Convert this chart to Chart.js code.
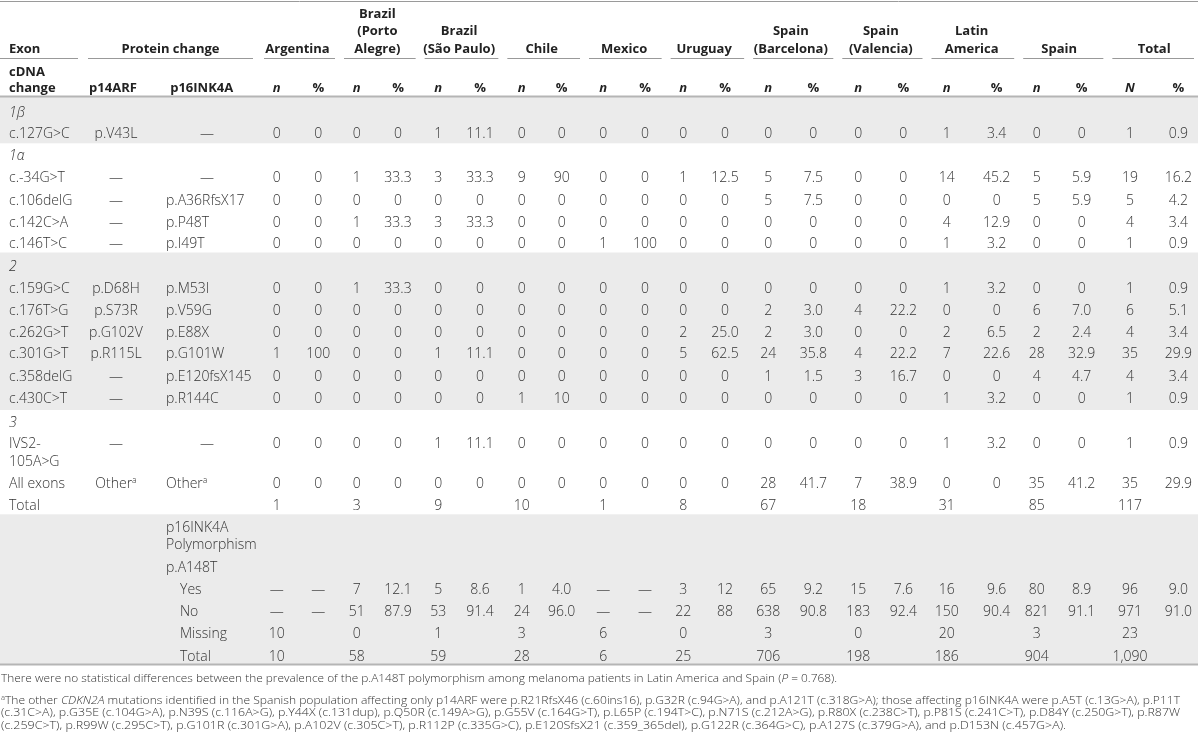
<!DOCTYPE html>
<html>
<head>
<meta charset="utf-8">
<script src="https://cdn.jsdelivr.net/npm/chart.js@4.4.0/dist/chart.umd.min.js"></script>
<style>
html, body { margin: 0; padding: 0; background: #fff; }
#wrap { width: 1200px; height: 739px; position: relative; }
</style>
</head>
<body>
<div id="wrap"><canvas id="tableChart"></canvas></div>
<script>
const countries = [
    ["Argentina"],
    ["Brazil", "(Porto", "Alegre)"],
    ["Brazil", "(São Paulo)"],
    ["Chile"],
    ["Mexico"],
    ["Uruguay"],
    ["Spain", "(Barcelona)"],
    ["Spain", "(Valencia)"],
    ["Latin", "America"],
    ["Spain"],
    ["Total"],
];

const exonLabels = ["1β", "1α", "2", "3"];

const cdnaChanges = [
    "c.127G>C", "c.-34G>T", "c.106delG", "c.142C>A", "c.146T>C",
    "c.159G>C", "c.176T>G", "c.262G>T", "c.301G>T", "c.358delG", "c.430C>T",
    "IVS2-105A>G", "All exons",
];
const p14Changes = [
    "p.V43L", "—", "—", "—", "—",
    "p.D68H", "p.S73R", "p.G102V", "p.R115L", "—", "—",
    "—", "Other",
];
const p16Changes = [
    "—", "—", "p.A36RfsX17", "p.P48T", "p.I49T",
    "p.M53I", "p.V59G", "p.E88X", "p.G101W", "p.E120fsX145", "p.R144C",
    "—", "Other",
];

// n per country group (Argentina ... Total), one row per mutation
const mutationN = [
    ["0", "0", "1", "0", "0", "0", "0", "0", "1", "0", "1"],
    ["0", "1", "3", "9", "0", "1", "5", "0", "14", "5", "19"],
    ["0", "0", "0", "0", "0", "0", "5", "0", "0", "5", "5"],
    ["0", "1", "3", "0", "0", "0", "0", "0", "4", "0", "4"],
    ["0", "0", "0", "0", "1", "0", "0", "0", "1", "0", "1"],
    ["0", "1", "0", "0", "0", "0", "0", "0", "1", "0", "1"],
    ["0", "0", "0", "0", "0", "0", "2", "4", "0", "6", "6"],
    ["0", "0", "0", "0", "0", "2", "2", "0", "2", "2", "4"],
    ["1", "0", "1", "0", "0", "5", "24", "4", "7", "28", "35"],
    ["0", "0", "0", "0", "0", "0", "1", "3", "0", "4", "4"],
    ["0", "0", "0", "1", "0", "0", "0", "0", "1", "0", "1"],
    ["0", "0", "1", "0", "0", "0", "0", "0", "1", "0", "1"],
    ["0", "0", "0", "0", "0", "0", "28", "7", "0", "35", "35"],
];
const mutationPct = [
    ["0", "0", "11.1", "0", "0", "0", "0", "0", "3.4", "0", "0.9"],
    ["0", "33.3", "33.3", "90", "0", "12.5", "7.5", "0", "45.2", "5.9", "16.2"],
    ["0", "0", "0", "0", "0", "0", "7.5", "0", "0", "5.9", "4.2"],
    ["0", "33.3", "33.3", "0", "0", "0", "0", "0", "12.9", "0", "3.4"],
    ["0", "0", "0", "0", "100", "0", "0", "0", "3.2", "0", "0.9"],
    ["0", "33.3", "0", "0", "0", "0", "0", "0", "3.2", "0", "0.9"],
    ["0", "0", "0", "0", "0", "0", "3.0", "22.2", "0", "7.0", "5.1"],
    ["0", "0", "0", "0", "0", "25.0", "3.0", "0", "6.5", "2.4", "3.4"],
    ["100", "0", "11.1", "0", "0", "62.5", "35.8", "22.2", "22.6", "32.9", "29.9"],
    ["0", "0", "0", "0", "0", "0", "1.5", "16.7", "0", "4.7", "3.4"],
    ["0", "0", "0", "10", "0", "0", "0", "0", "3.2", "0", "0.9"],
    ["0", "0", "11.1", "0", "0", "0", "0", "0", "3.2", "0", "0.9"],
    ["0", "0", "0", "0", "0", "0", "41.7", "38.9", "0", "41.2", "29.9"],
];
const totalN = ["1", "3", "9", "10", "1", "8", "67", "18", "31", "85", "117"];

const polyLabels = ["Yes", "No", "Missing", "Total"];
const polyN = [
    ["—", "7", "5", "1", "—", "3", "65", "15", "16", "80", "96"],
    ["—", "51", "53", "24", "—", "22", "638", "183", "150", "821", "971"],
    ["10", "0", "1", "3", "6", "0", "3", "0", "20", "3", "23"],
    ["10", "58", "59", "28", "6", "25", "706", "198", "186", "904", "1,090"],
];
const polyPct = [
    ["—", "12.1", "8.6", "4.0", "—", "12", "9.2", "7.6", "9.6", "8.9", "9.0"],
    ["—", "87.9", "91.4", "96.0", "—", "88", "90.8", "92.4", "90.4", "91.1", "91.0"],
    null,
    null,
];

const footnotes = [
    [{ t: "There were no statistical differences between the prevalence of the p.A148T polymorphism among melanoma patients in Latin America and Spain (" }, { t: "P", it: true }, { t: " = 0.768)." }],
    [{ t: "a", sup: true }, { t: "The other " }, { t: "CDKN2A", it: true }, { t: " mutations identified in the Spanish population affecting only p14ARF were p.R21RfsX46 (c.60ins16), p.G32R (c.94G>A), and p.A121T (c.318G>A); those affecting p16INK4A were p.A5T (c.13G>A), p.P11T" }],
    [{ t: "(c.31C>A), p.G35E (c.104G>A), p.N39S (c.116A>G), p.Y44X (c.131dup), p.Q50R (c.149A>G), p.G55V (c.164G>T), p.L65P (c.194T>C), p.N71S (c.212A>G), p.R80X (c.238C>T), p.P81S (c.241C>T), p.D84Y (c.250G>T), p.R87W" }],
    [{ t: "(c.259C>T), p.R99W (c.295C>T), p.G101R (c.301G>A), p.A102V (c.305C>T), p.R112P (c.335G>C), p.E120SfsX21 (c.359_365del), p.G122R (c.364G>C), p.A127S (c.379G>A), and p.D153N (c.457G>A)." }],
];

// ---- layout (table units = pixels of the 1200x739 page) ----
const colN = [276.7, 356.7, 438.3, 521.7, 603.3, 683.3, 768.3, 858.3, 946.7, 1036.7, 1130];
const colPct = [318.3, 398, 480, 561.7, 645, 725, 813.3, 903.3, 996.7, 1081.7, 1178.3];
const exonRowY = [112, 155, 266, 421.7];
const mutationRowY = [132.7, 177, 200, 221.7, 243.3, 288.3, 310, 331.7, 353.3, 376, 398.3, 443.3, 483.3];
const totalRowY = 505;
const polyHeadY = [526.7, 544.3, 566.7];
const polyRowY = [589.3, 611, 633.3, 655.7];
const footY = [678, 700, 711.5, 724.5];
const footRight = [837, 1180, 1180, 1066];
const bands = [[97, 143.3], [252.5, 410], [514.3, 664]];

const FAMILY = '"Open Sans", "Liberation Sans", sans-serif';
const BODY = 14;
const HEAD = 13;
const FOOT = 11.5;
const INK = "#333";
const HEAD_INK = "#222";

function measureRuns(ctx, runs, size) {
    let w = 0;
    runs.forEach((r) => {
        const fs = r.sup ? size * 0.62 : size;
        ctx.font = (r.it ? "italic " : "") + "300 " + fs + "px " + FAMILY;
        w += ctx.measureText(r.t).width;
    });
    return w;
}

function drawRuns(ctx, runs, x0, yBase, size, sx) {
    ctx.save();
    ctx.translate(x0, yBase);
    ctx.scale(sx, 1);
    ctx.textAlign = "left";
    ctx.textBaseline = "alphabetic";
    let cx = 0;
    runs.forEach((r) => {
        const fs = r.sup ? size * 0.62 : size;
        ctx.font = (r.it ? "italic " : "") + "300 " + fs + "px " + FAMILY;
        ctx.fillText(r.t, cx, r.sup ? -size * 0.38 : 0);
        cx += ctx.measureText(r.t).width;
    });
    ctx.restore();
}

const tablePlugin = {
    id: "tableCells",
    afterDraw(chart) {
        const { ctx, scales } = chart;
        const px = (v) => scales.x.getPixelForValue(v);
        const py = (v) => scales.y.getPixelForValue(v);

        const text = (str, xv, yv, align, font, size, color) => {
            ctx.font = font;
            ctx.fillStyle = color;
            ctx.textAlign = align;
            ctx.textBaseline = "alphabetic";
            ctx.fillText(str, px(xv), py(yv) + size * 0.36);
        };
        const body = (str, xv, yv, align, italic) =>
            text(str, xv, yv, align, (italic ? "italic " : "") + "300 " + BODY + "px " + FAMILY, BODY, INK);
        const head = (str, xv, yv, align, italic) =>
            text(str, xv, yv, align, (italic ? "italic " : "") + "bold " + HEAD + "px " + FAMILY, HEAD, HEAD_INK);
        const hline = (x0, x1, yv, w, color) => {
            ctx.strokeStyle = color;
            ctx.lineWidth = w;
            ctx.beginPath();
            ctx.moveTo(px(x0), py(yv));
            ctx.lineTo(px(x1), py(yv));
            ctx.stroke();
        };

        ctx.save();

        // shaded exon bands
        ctx.fillStyle = "#ebebeb";
        bands.forEach(([a, b]) => {
            ctx.fillRect(px(0), py(a), px(1198) - px(0), py(b) - py(a));
        });

        // rules
        hline(0, 1198, 1.5, 1, "#9a9a9a");
        hline(0, 1198, 96.5, 2, "#b5b5b5");
        hline(0, 1198, 664.5, 2, "#b5b5b5");

        // header row 1
        head("Exon", 9, 48.3, "left");
        hline(0, 78, 58.5, 1, "#999");
        head("Protein change", 170.5, 48.3, "center");
        hline(88, 253, 58.5, 1, "#999");
        countries.forEach((lines, i) => {
            const mid = (colN[i] + colPct[i]) / 2;
            lines.forEach((ln, k) => {
                head(ln, mid, 48.3 - (lines.length - 1 - k) * 17.5, "center");
            });
            const left = i === 0 ? 259 : (colPct[i - 1] + colN[i]) / 2 + 1.5;
            const right = i === countries.length - 1 ? 1198 : (colPct[i] + colN[i + 1]) / 2 + 1.5;
            hline(left + 5, right - 4, 58.5, 1, "#999");
        });

        // header row 2
        head("cDNA", 9, 71.7, "left");
        head("change", 9, 87.7, "left");
        head("p14ARF", 113, 87.7, "center");
        head("p16INK4A", 201.7, 87.7, "center");
        countries.forEach((_, i) => {
            head(i === countries.length - 1 ? "N" : "n", colN[i], 87.7, "center", true);
            head("%", colPct[i], 87.7, "center");
        });

        // exon labels
        exonLabels.forEach((lbl, i) => body(lbl, 9, exonRowY[i], "left", true));

        // mutation rows
        cdnaChanges.forEach((c, r) => {
            const yv = mutationRowY[r];
            if (c.startsWith("IVS2-")) {
                body("IVS2-", 9, yv, "left");
                body(c.slice(5), 9, yv + 17.7, "left");
            } else {
                body(c, 9, yv, "left");
            }
            [[p14Changes[r], 116, "center"], [p16Changes[r], 166, "left"]].forEach(([v, xv, al]) => {
                if (v === "—") {
                    body(v, xv === 166 ? 207 : xv, yv, "center");
                } else if (v === "Other") {
                    ctx.fillStyle = INK;
                    const w = measureRuns(ctx, [{ t: "Other" }, { t: "a", sup: true }], BODY);
                    const x0 = al === "center" ? px(xv) - w / 2 : px(xv);
                    drawRuns(ctx, [{ t: "Other" }, { t: "a", sup: true }], x0, py(yv) + BODY * 0.36, BODY, 1);
                } else {
                    body(v, xv, yv, al);
                }
            });
            mutationN[r].forEach((v, i) => body(v, colN[i], yv, "center"));
            mutationPct[r].forEach((v, i) => body(v, colPct[i], yv, "center"));
        });

        // total of mutations
        body("Total", 9, totalRowY, "left");
        totalN.forEach((v, i) => body(v, colN[i], totalRowY, "center"));

        // polymorphism block
        body("p16INK4A", 166, polyHeadY[0], "left");
        body("Polymorphism", 166, polyHeadY[1], "left");
        body("p.A148T", 166, polyHeadY[2], "left");
        polyLabels.forEach((lbl, r) => {
            const yv = polyRowY[r];
            body(lbl, 180, yv, "left");
            polyN[r].forEach((v, i) => body(v, colN[i], yv, "center"));
            if (polyPct[r]) polyPct[r].forEach((v, i) => body(v, colPct[i], yv, "center"));
        });

        // footnotes, each line fitted to its width in the original
        ctx.fillStyle = "#333";
        footnotes.forEach((runs, i) => {
            const sx = (px(footRight[i]) - px(1)) / measureRuns(ctx, runs, FOOT);
            drawRuns(ctx, runs, px(1), py(footY[i]) + FOOT * 0.36, FOOT, sx);
        });

        ctx.restore();
    },
};

const canvas = document.getElementById("tableChart");
new Chart(canvas, {
    type: "scatter",
    data: { datasets: [] },
    options: {
        responsive: true,
        maintainAspectRatio: false,
        animation: false,
        layout: { padding: 0 },
        plugins: {
            legend: { display: false },
            tooltip: { enabled: false },
        },
        scales: {
            x: { type: "linear", min: 0, max: 1200, display: false },
            y: { type: "linear", min: 0, max: 739, reverse: true, display: false },
        },
    },
    plugins: [tablePlugin],
});
</script>
</body>
</html>
